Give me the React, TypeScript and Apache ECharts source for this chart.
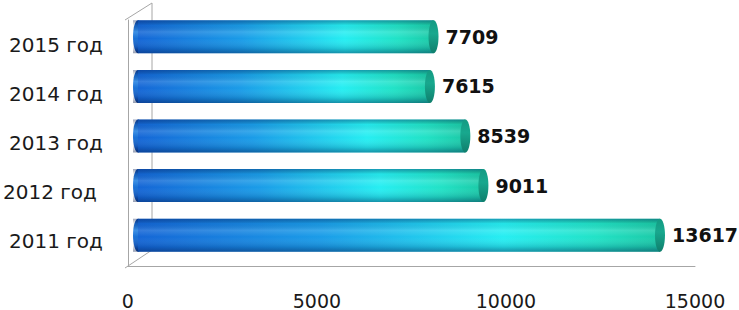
import React, { useEffect, useRef } from "react";
import * as echarts from "echarts";

const categories: string[] = ["2011 год", "2012 год", "2013 год", "2014 год", "2015 год"];
const values: number[] = [13617, 9011, 8539, 7615, 7709];
const xTicks: number[] = [0, 5000, 10000, 15000];

const FRAME = "#a6a6a6";

export default function App() {
  const ref = useRef<HTMLDivElement>(null);
  useEffect(() => {
    if (!ref.current) return;
    const chart = echarts.init(ref.current, undefined, { renderer: "svg" });

    const renderItem = (params: any, api: any) => {
      const v = api.value(0);
      const cat = api.value(1);
      const start = api.coord([0, cat]);
      const end = api.coord([v, cat]);
      const bh = api.size([0, 1])[1] * 0.665;
      const cy = start[1];
      const y0 = cy - bh / 2;
      const rx = 5;
      const body = new echarts.graphic.LinearGradient(0, 0, 1, 0, [
        { offset: 0, color: "#1466d6" },
        { offset: 0.35, color: "#1a9ce8" },
        { offset: 0.7, color: "#26eef2" },
        { offset: 0.88, color: "#21e2c6" },
        { offset: 1, color: "#1bc9a6" },
      ]);
      const shade = new echarts.graphic.LinearGradient(0, 0, 0, 1, [
        { offset: 0, color: "rgba(0,25,90,0.38)" },
        { offset: 0.15, color: "rgba(0,0,0,0.04)" },
        { offset: 0.35, color: "rgba(255,255,255,0.14)" },
        { offset: 0.55, color: "rgba(255,255,255,0)" },
        { offset: 0.85, color: "rgba(0,20,70,0.16)" },
        { offset: 1, color: "rgba(0,20,70,0.42)" },
      ]);
      const leftFill = new echarts.graphic.LinearGradient(0, 0, 0, 1, [
        { offset: 0, color: "#0e4cae" },
        { offset: 0.35, color: "#1f7ee0" },
        { offset: 0.8, color: "#1560c8" },
        { offset: 1, color: "#0c3f96" },
      ]);
      const capFill = new echarts.graphic.LinearGradient(0, 0, 0, 1, [
        { offset: 0, color: "#139a82" },
        { offset: 0.4, color: "#18a88e" },
        { offset: 1, color: "#0f7e6c" },
      ]);
      return {
        type: "group",
        children: [
          {
            type: "ellipse",
            shape: { cx: start[0], cy, rx, ry: bh / 2 },
            style: { fill: leftFill },
          },
          {
            type: "rect",
            shape: { x: start[0], y: y0, width: end[0] - start[0], height: bh },
            style: { fill: body },
          },
          {
            type: "rect",
            shape: { x: start[0] - rx, y: y0, width: end[0] - start[0] + rx, height: bh },
            style: { fill: shade },
          },
          {
            type: "ellipse",
            shape: { cx: end[0], cy, rx, ry: bh / 2 },
            style: { fill: capFill },
          },
          {
            type: "text",
            x: end[0] + rx + 7,
            y: cy,
            style: {
              text: String(v),
              fill: "#111111",
              font: "bold 19px 'DejaVu Sans'",
              verticalAlign: "middle",
              align: "left",
            },
          },
        ],
      };
    };

    chart.setOption({
      animation: false,
      grid: [
        { left: 138, right: 26, top: 12, height: 248 },
        { left: 125, right: 44, top: 20, height: 248 },
      ],
      xAxis: [
        { gridIndex: 0, type: "value", min: 0, max: 15000, show: false },
        {
          gridIndex: 1,
          type: "value",
          min: xTicks[0],
          max: xTicks[xTicks.length - 1],
          interval: xTicks[1] - xTicks[0],
          axisLine: { show: true, lineStyle: { color: FRAME, width: 1 } },
          axisTick: { show: false },
          splitLine: { show: false },
          axisLabel: {
            margin: 25,
            color: "#1a1a1a",
            fontSize: 19,
            fontFamily: "DejaVu Sans",
            formatter: (v: number) => String(v),
          },
        },
      ],
      yAxis: [
        { gridIndex: 0, type: "category", data: categories, show: false },
        {
          gridIndex: 1,
          type: "category",
          data: categories.map((c, i) =>
            i === 1 ? { value: c, textStyle: { padding: [0, 6, 0, 0] } } : c
          ),
          axisLine: { show: true, lineStyle: { color: FRAME, width: 1 } },
          axisTick: { show: false },
          splitLine: { show: false },
          axisLabel: {
            margin: 25,
            color: "#1a1a1a",
            fontSize: 20,
            fontFamily: "DejaVu Sans",
          },
        },
      ],
      series: [
        {
          type: "custom",
          xAxisIndex: 0,
          yAxisIndex: 0,
          renderItem,
          encode: { x: 0, y: 1 },
          data: values.map((v, i) => [v, i]),
        },
      ],
      graphic: [
        { type: "line", shape: { x1: 152, y1: 3, x2: 152, y2: 250 }, style: { stroke: FRAME, lineWidth: 1 } },
        { type: "line", shape: { x1: 125, y1: 20, x2: 152, y2: 3 }, style: { stroke: FRAME, lineWidth: 1 } },
        { type: "line", shape: { x1: 125, y1: 268, x2: 152, y2: 250 }, style: { stroke: FRAME, lineWidth: 1 } },
      ],
    });
    return () => chart.dispose();
  }, []);
  return (
    <div
      ref={ref}
      style={{ position: "absolute", left: 0, top: 0, width: 739, height: 310, background: "#ffffff" }}
    />
  );
}
